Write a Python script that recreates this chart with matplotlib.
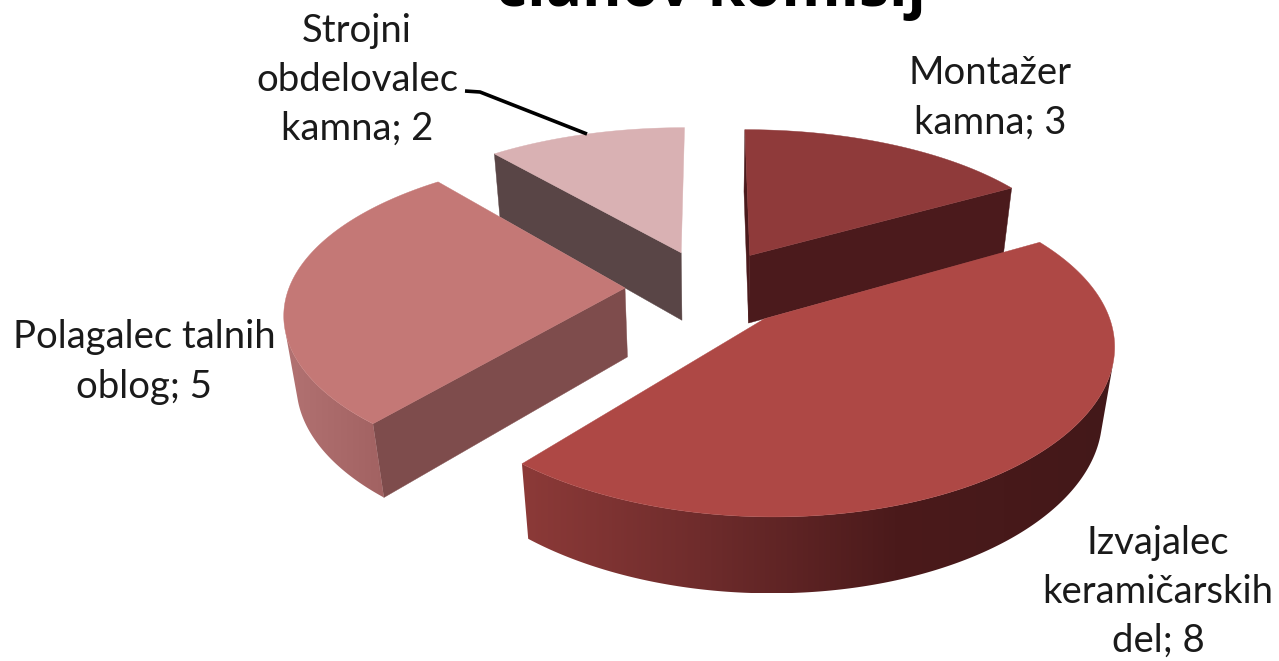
import numpy as np
import matplotlib
matplotlib.use("Agg")
import matplotlib.pyplot as plt
from matplotlib.colors import LinearSegmentedColormap
from matplotlib.patches import Polygon

# chart data
categories = ["Montažer\nkamna", "Izvajalec\nkeramičarskih\ndel", "Polagalec talnih\noblog", "Strojni\nobdelovalec\nkamna"]
values = [3, 8, 5, 2]
title = "članov komisij"

# top surface, flat cut side, outer wall shading left -> right
top_colors = ["#8F3A3A", "#AE4845", "#C47876", "#D9B1B3"]
cut_colors = ["#4B1A1C", "#4B1A1C", "#7E4C4C", "#594546"]
wall_colors = [
    [(0, "#4B1A1C"), (1, "#4B1A1C")],
    [(0, "#8C3A38"), (0.3, "#6F2C2C"), (0.63, "#4B1A1B"), (1, "#431819")],
    [(0, "#B27272"), (1, "#A26262")],
    [(0, "#B89596"), (1, "#A88586")],
]

# label centres in pixels
label_pos = [(990, 98), (1158, 592), (144, 362), (357, 80)]

# projection of the pie plane to pixels
CX, CY = 709, 288
AX, GY = 336, 155.5
PERSP_X = 0.14
PERSP_Y = 0.16
DROP_Z = 71
DROP_Q = 0.03
EXPLODE = 0.25


def project(x, y, bottom=False):
    if bottom:
        sx = 1 / (1 - PERSP_X * y + DROP_Q)
        sy = 1 / (1 - PERSP_Y * y + DROP_Q)
        return CX + AX * x * sx, CY + (GY * y + DROP_Z) * sy
    return CX + AX * x / (1 - PERSP_X * y), CY + GY * y / (1 - PERSP_Y * y)


def area(px, py):
    return 0.5 * np.sum(np.array(px) * np.roll(py, -1) - np.roll(px, -1) * np.array(py))


def wall_outline(x, y):
    tx, ty = project(x, y)
    bx, by = project(x, y, bottom=True)
    return np.r_[tx, bx[::-1]], np.r_[ty, by[::-1]]


fig = plt.figure(figsize=(12.79, 6.61), dpi=100)
ax = fig.add_axes([0, 0, 1, 1])
ax.axis("off")

total = sum(values)
edges = np.cumsum([0] + values) / total * 2 * np.pi
z = 1

# back slices first
for i in [3, 0, 2, 1]:
    a0, a1 = edges[i], edges[i + 1]
    mid = (a0 + a1) / 2
    ox, oy = EXPLODE * np.sin(mid), -EXPLODE * np.cos(mid)
    t = np.linspace(a0, a1, 240)
    rx, ry = ox + np.sin(t), oy - np.cos(t)

    # flat cut sides, only those that face the viewer
    cuts = [([ox, rx[0]], [oy, ry[0]]), ([rx[-1], ox], [ry[-1], oy])]
    if i == 3:
        cuts = cuts[:1]
    for cx_, cy_ in cuts:
        px, py = wall_outline(np.array(cx_), np.array(cy_))
        if area(px, py) < 0:
            ax.add_patch(Polygon(np.c_[px, py], color=cut_colors[i], lw=0.3, zorder=z))
            z += 1

    # outer wall: visible part as one gradient-filled outline
    visible = []
    for j in range(len(t) - 1):
        px, py = wall_outline(rx[j:j + 2], ry[j:j + 2])
        if area(px, py) < 0:
            visible.append(j)
    if visible:
        j0, j1 = visible[0], visible[-1] + 2
        px, py = wall_outline(rx[j0:j1], ry[j0:j1])
        cmap = LinearSegmentedColormap.from_list(f"wall{i}", wall_colors[i])
        grad = np.linspace(0, 1, 256).reshape(1, -1)
        im = ax.imshow(grad, cmap=cmap, aspect="auto", zorder=z, interpolation="bilinear",
                       extent=[px.min(), px.max(), py.max(), py.min()])
        clip = Polygon(np.c_[px, py], transform=ax.transData, fc="none", ec="none")
        ax.add_patch(clip)
        im.set_clip_path(clip)
        z += 1

    px, py = project(np.r_[ox, rx], np.r_[oy, ry])
    ax.add_patch(Polygon(np.c_[px, py], color=top_colors[i], lw=0.3, zorder=z))
    z += 1

ax.set_xlim(0, 1279)
ax.set_ylim(661, 0)

# leader line of the small slice
lead_x = [465, 480, 587]
lead_y = [91, 92, 134]
ax.plot(lead_x, lead_y, color="black", lw=2.6, solid_capstyle="butt", zorder=z)

font = "Lato"
for name, v, (lx, ly) in zip(categories, values, label_pos):
    ax.text(lx, ly, f"{name}; {v}", ha="center", va="center", fontsize=27.5,
            family=font, color="#1a1a1a", linespacing=1.45, zorder=z)

ax.text(711, 6, title, ha="center", va="baseline", fontsize=43.5, family="Open Sans",
        weight="bold", color="black", zorder=z)

fig.savefig("out.png", dpi=100, facecolor="white")
